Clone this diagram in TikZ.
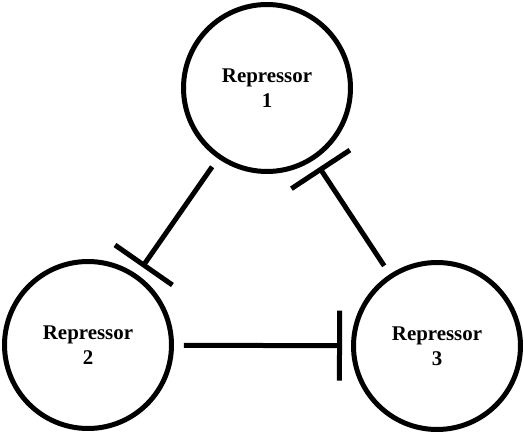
\documentclass[tikz,border=0pt]{standalone}
\usepackage{fontspec}
\setmainfont{Liberation Serif}
\usetikzlibrary{arrows.meta}

\begin{document}
\begin{tikzpicture}[x=0.02cm, y=-0.02cm,
        repressor/.style={draw, circle, line width=0.1cm, minimum size=3.34cm, align=center, font=\fontsize{11.9}{14.2}\selectfont\bfseries},
        inhibit/.style={-{Bar[width=1.4cm]}, line width=0.1cm, shorten <=0.2cm, shorten >=0.18cm}]
            \useasboundingbox (0,0) rectangle (524,435);
            \node[repressor] (rep1) at (267,88) {Repressor\\1};
            \node[repressor] (rep2) at (88,345) {Repressor\\2};
            \node[repressor] (rep3) at (437,346) {Repressor\\3};

            \draw[inhibit] (rep1) -- (rep2);
            \draw[inhibit] (rep2) -- (rep3);
            \draw[inhibit] (rep3) -- (rep1);
        \end{tikzpicture}
\end{document}
